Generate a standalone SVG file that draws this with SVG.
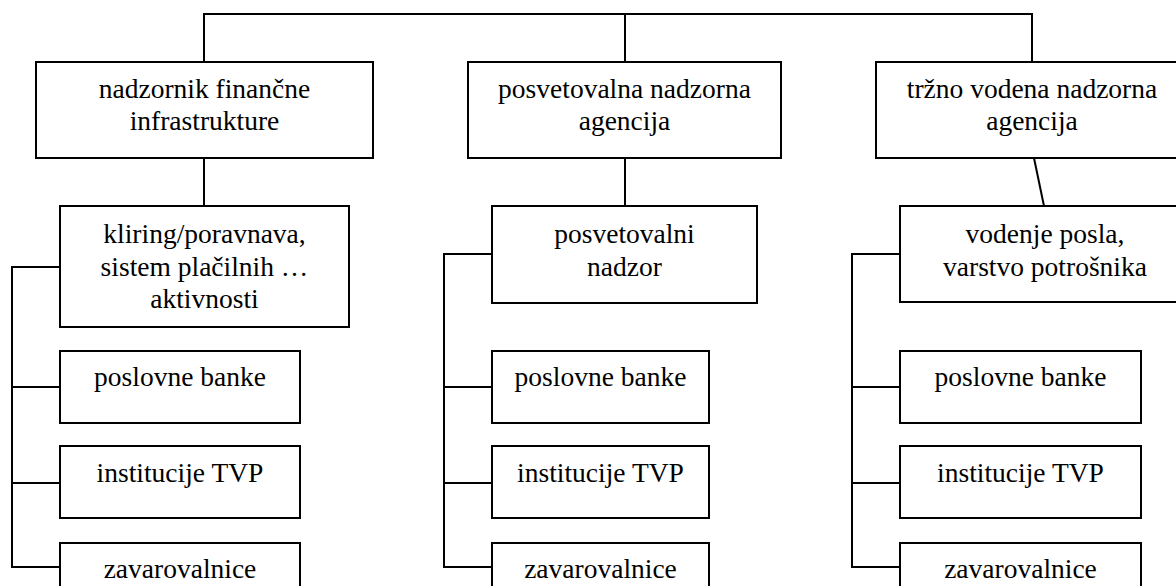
<svg xmlns="http://www.w3.org/2000/svg" width="1176" height="586" viewBox="0 0 1176 586">
  <style>
    .box { fill: #ffffff; stroke: #000000; stroke-width: 2; }
    .lbl { font-size: 27.5px; fill: #000000; text-anchor: middle; }
    .wire { fill: none; stroke: #000000; stroke-width: 2; }
  </style>
  <rect width="1176" height="586" fill="#ffffff"/>

  <!-- connectors -->
  <g id="connectors">
    <path class="wire" d="M204,62 V14 H1032 V62"/>
    <path class="wire" d="M625,14 V62" stroke-width="3"/>
    <path class="wire" d="M204,158 V206"/>
    <path class="wire" d="M625,158 V206"/>
    <path class="wire" d="M1034,158 L1044,206"/>
    <!-- left column bracket -->
    <path class="wire" d="M60,267 H12 V567 H60"/>
    <path class="wire" d="M12,387 H60" stroke-width="2.5"/>
    <path class="wire" d="M12,483 H60"/>
    <!-- middle column bracket -->
    <path class="wire" d="M492,254 H444 V567 H492"/>
    <path class="wire" d="M444,387 H492" stroke-width="2.5"/>
    <path class="wire" d="M444,483 H492"/>
    <!-- right column bracket -->
    <path class="wire" d="M900,254 H852 V567 H900"/>
    <path class="wire" d="M852,387 H900" stroke-width="2.5"/>
    <path class="wire" d="M852,483 H900"/>
  </g>

  <g font-family="Liberation Serif">
  <!-- top-level agencies -->
  <g id="agency-infra">
    <rect class="box" x="36" y="62" width="337" height="96"/>
    <text class="lbl" x="204.5" y="98" font-family="Liberation Serif">nadzornik finančne</text>
    <text class="lbl" x="204.5" y="130" font-family="Liberation Serif">infrastrukture</text>
  </g>
  <g id="agency-prudential">
    <rect class="box" x="468" y="62" width="313" height="96"/>
    <text class="lbl" x="624.5" y="98" font-family="Liberation Serif">posvetovalna nadzorna</text>
    <text class="lbl" x="624.5" y="130" font-family="Liberation Serif">agencija</text>
  </g>
  <g id="agency-market">
    <rect class="box" x="876" y="62" width="312" height="96"/>
    <text class="lbl" x="1032" y="98" font-family="Liberation Serif">tržno vodena nadzorna</text>
    <text class="lbl" x="1032" y="130" font-family="Liberation Serif">agencija</text>
  </g>

  <!-- supervisory functions -->
  <g id="func-clearing">
    <rect class="box" x="60" y="206" width="289" height="121"/>
    <text class="lbl" x="204.5" y="243" font-family="Liberation Serif">kliring/poravnava,</text>
    <text class="lbl" x="204.5" y="276" font-family="Liberation Serif">sistem plačilnih …</text>
    <text class="lbl" x="204.5" y="308" font-family="Liberation Serif">aktivnosti</text>
  </g>
  <g id="func-prudential">
    <rect class="box" x="492" y="206" width="265" height="97"/>
    <text class="lbl" x="624.5" y="243" font-family="Liberation Serif">posvetovalni</text>
    <text class="lbl" x="624.5" y="276" font-family="Liberation Serif">nadzor</text>
  </g>
  <g id="func-conduct">
    <rect class="box" x="900" y="206" width="290" height="96"/>
    <text class="lbl" x="1045" y="243" font-family="Liberation Serif">vodenje posla,</text>
    <text class="lbl" x="1045" y="276" font-family="Liberation Serif">varstvo potrošnika</text>
  </g>

  <!-- left column institutions -->
  <g id="left-banks">
    <rect class="box" x="60" y="351" width="240" height="72"/>
    <text class="lbl" x="180" y="386" font-family="Liberation Serif">poslovne banke</text>
  </g>
  <g id="left-tvp">
    <rect class="box" x="60" y="446" width="240" height="72"/>
    <text class="lbl" x="180" y="482" font-family="Liberation Serif">institucije TVP</text>
  </g>
  <g id="left-insurers">
    <rect class="box" x="60" y="543" width="240" height="72"/>
    <text class="lbl" x="180" y="578" font-family="Liberation Serif">zavarovalnice</text>
  </g>

  <!-- middle column institutions -->
  <g id="mid-banks">
    <rect class="box" x="492" y="351" width="217" height="72"/>
    <text class="lbl" x="600.5" y="386" font-family="Liberation Serif">poslovne banke</text>
  </g>
  <g id="mid-tvp">
    <rect class="box" x="492" y="446" width="217" height="72"/>
    <text class="lbl" x="600.5" y="482" font-family="Liberation Serif">institucije TVP</text>
  </g>
  <g id="mid-insurers">
    <rect class="box" x="492" y="543" width="217" height="72"/>
    <text class="lbl" x="600.5" y="578" font-family="Liberation Serif">zavarovalnice</text>
  </g>

  <!-- right column institutions -->
  <g id="right-banks">
    <rect class="box" x="900" y="351" width="241" height="72"/>
    <text class="lbl" x="1020.5" y="386" font-family="Liberation Serif">poslovne banke</text>
  </g>
  <g id="right-tvp">
    <rect class="box" x="900" y="446" width="241" height="72"/>
    <text class="lbl" x="1020.5" y="482" font-family="Liberation Serif">institucije TVP</text>
  </g>
  <g id="right-insurers">
    <rect class="box" x="900" y="543" width="241" height="72"/>
    <text class="lbl" x="1020.5" y="578" font-family="Liberation Serif">zavarovalnice</text>
  </g>
  </g>
</svg>
